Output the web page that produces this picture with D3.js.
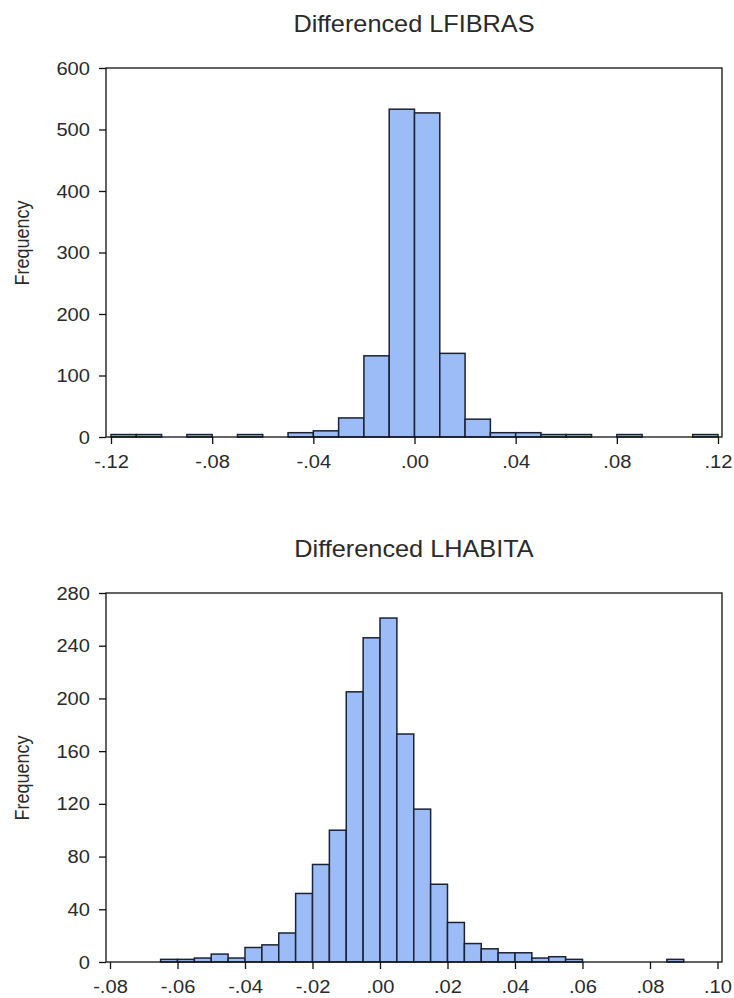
<!DOCTYPE html>
<html>
<head>
<meta charset="utf-8">
<script src="https://cdn.jsdelivr.net/npm/d3@7"></script>
<style>
  html, body { margin: 0; padding: 0; background: #fff; }
  svg { display: block; }
  text { font-family: "Liberation Sans", Arial, sans-serif; fill: #2a2a2a; }
</style>
</head>
<body>
<div id="chart"></div>
<script>
// histogram 1: Differenced LFIBRAS (bin width .01, value = left edge)
var fibrasBins = [-0.12, -0.11, -0.10, -0.09, -0.08, -0.07, -0.06, -0.05, -0.04, -0.03, -0.02, -0.01,
                  0.00, 0.01, 0.02, 0.03, 0.04, 0.05, 0.06, 0.07, 0.08, 0.09, 0.10, 0.11];
var fibrasCounts = [4, 4, 0, 4, 0, 4, 0, 7, 10, 31, 132, 533,
                    527, 136, 29, 7, 7, 4, 4, 0, 4, 0, 0, 4];
var fibrasXTicks = [-0.12, -0.08, -0.04, 0, 0.04, 0.08, 0.12];
var fibrasYTicks = [0, 100, 200, 300, 400, 500, 600];

// histogram 2: Differenced LHABITA (bin width .005)
var habitaBins = [-0.065, -0.060, -0.055, -0.050, -0.045, -0.040, -0.035, -0.030, -0.025, -0.020, -0.015, -0.010, -0.005,
                  0.000, 0.005, 0.010, 0.015, 0.020, 0.025, 0.030, 0.035, 0.040, 0.045, 0.050, 0.055, 0.085];
var habitaCounts = [2, 2, 3, 6, 3, 11, 13, 22, 52, 74, 100, 205, 246,
                    261, 173, 116, 59, 30, 14, 10, 7, 7, 3, 4, 2, 2];
var habitaXTicks = [-0.08, -0.06, -0.04, -0.02, 0, 0.02, 0.04, 0.06, 0.08, 0.10];
var habitaYTicks = [0, 40, 80, 120, 160, 200, 240, 280];

var W = 734, H = 998;

var svg = d3.select('#chart').append('svg')
    .attr('width', W).attr('height', H);

// eviews style: ".04", "-.08"
function fmt(d) {
  return d3.format('.2f')(d).replace('\u2212', '-').replace('0.', '.');
}

// the source picture is a little wider than plain Arial
function stretch(sel, sx) {
  sel.each(function() {
    var t = d3.select(this);
    var x = +t.attr('x') || 0, y = +t.attr('y') || 0;
    t.attr('x', 0).attr('y', 0)
      .attr('transform', 'translate(' + x + ',' + y + ') scale(' + sx + ',1)');
  });
}

function drawHist(o) {
  var g = svg.append('g');
  var x = d3.scaleLinear().domain(o.xDomain).range(o.xRange);
  var y = d3.scaleLinear().domain([0, o.yMax]).range([o.bottom, o.top]);

  g.selectAll('rect.bar').data(o.bins)
    .enter().append('rect')
      .attr('class', 'bar')
      .attr('x', function(d) { return x(d); })
      .attr('width', function(d) { return x(d + o.binWidth) - x(d); })
      .attr('y', function(d, i) { return y(o.counts[i]); })
      .attr('height', function(d, i) { return y(0) - y(o.counts[i]); })
      .style('fill', '#9bbcf7')
      .style('stroke', '#1c2233')
      .style('stroke-width', 1.5)
      .style('display', function(d, i) { return o.counts[i] > 0 ? null : 'none'; });

  // frame
  g.append('rect')
    .attr('x', 106).attr('y', o.top)
    .attr('width', 616).attr('height', o.bottom - o.top)
    .style('fill', 'none').style('stroke', '#111').style('stroke-width', 1.3);

  var ya = g.append('g').attr('transform', 'translate(106,0)')
    .call(d3.axisLeft(y).tickValues(o.yTicks).tickSize(7).tickPadding(9).tickSizeOuter(0));
  var xa = g.append('g').attr('transform', 'translate(0,' + o.bottom + ')')
    .call(d3.axisBottom(x).tickValues(o.xTicks).tickFormat(fmt).tickSize(7).tickPadding(11).tickSizeOuter(0));

  [ya, xa].forEach(function(a) {
    a.select('.domain').remove();
    a.selectAll('line').style('stroke', '#111').style('stroke-width', 1.3);
    a.selectAll('text').style('font-size', '19px').style('fill', '#2a2a2a');
    stretch(a.selectAll('text'), 1.06);
  });

  g.append('text')
    .attr('text-anchor', 'middle')
    .attr('transform', 'translate(414,' + o.titleY + ') scale(1.1,1)')
    .style('font-size', '23px')
    .text(o.title);

  g.append('text')
    .attr('text-anchor', 'middle')
    .attr('transform', 'translate(29,' + o.labelY + ') scale(1.08,1) rotate(-90)')
    .style('font-size', '18px')
    .text('Frequency');
}

drawHist({
  title: 'Differenced LFIBRAS', titleY: 32,
  top: 68, bottom: 437, labelY: 243,
  xDomain: [-0.12, 0.12], xRange: [111, 718],
  yMax: 600, binWidth: 0.01,
  bins: fibrasBins, counts: fibrasCounts,
  xTicks: fibrasXTicks, yTicks: fibrasYTicks
});

drawHist({
  title: 'Differenced LHABITA', titleY: 557,
  top: 593, bottom: 962, labelY: 778,
  xDomain: [-0.08, 0.10], xRange: [110, 717.5],
  yMax: 280, binWidth: 0.005,
  bins: habitaBins, counts: habitaCounts,
  xTicks: habitaXTicks, yTicks: habitaYTicks
});
</script>
</body>
</html>
